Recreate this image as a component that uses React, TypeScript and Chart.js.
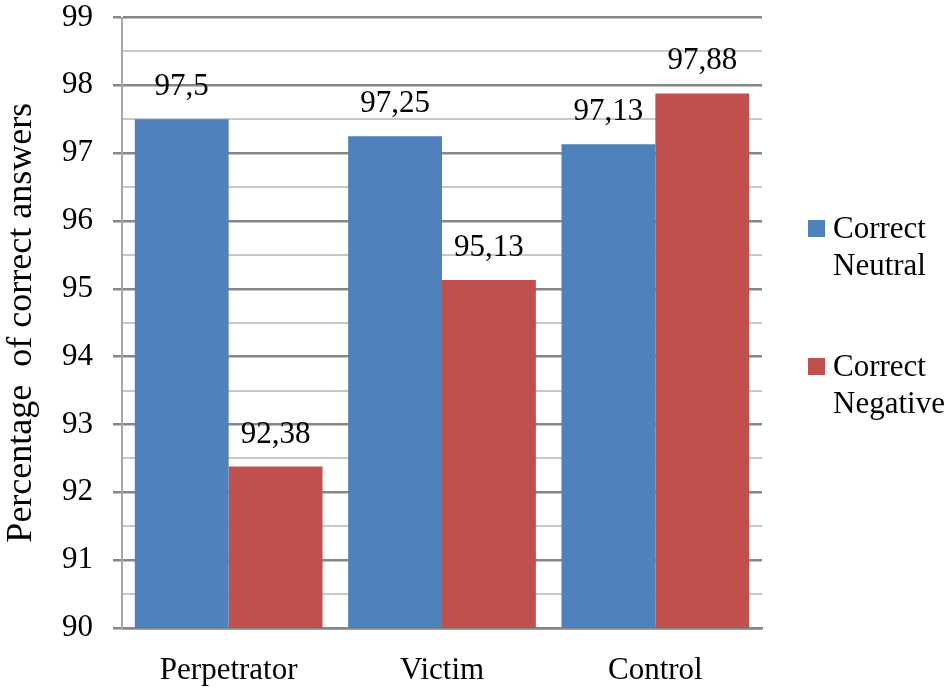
import { useEffect, useRef } from "react";
import { Chart, ChartConfiguration, Plugin, registerables } from "chart.js";

Chart.register(...registerables);

const categories = ["Perpetrator", "Victim", "Control"];
const neutralValues = [97.5, 97.25, 97.13];
const negativeValues = [92.38, 95.13, 97.88];
const seriesNames = [["Correct", "Neutral"], ["Correct", "Negative"]];
const seriesColors = ["#4F81BD", "#C0504D"];
const yTitle = "Percentage  of correct answers";

const FONT = "'Liberation Serif', 'Times New Roman', serif";

// value labels above each bar, with decimal comma
const valueLabels: Plugin<"bar"> = {
  id: "valueLabels",
  afterDatasetsDraw(chart) {
    const ctx = chart.ctx;
    ctx.save();
    ctx.font = `31px ${FONT}`;
    ctx.fillStyle = "#000";
    ctx.textAlign = "center";
    ctx.textBaseline = "alphabetic";
    chart.data.datasets.forEach((ds, i) => {
      const meta = chart.getDatasetMeta(i);
      meta.data.forEach((bar, j) => {
        const v = ds.data[j] as number;
        ctx.fillText(String(v).replace(".", ","), bar.x, bar.y - 24);
      });
    });
    ctx.restore();
  },
};

// legend on the right with two-line labels
const sideLegend: Plugin<"bar"> = {
  id: "sideLegend",
  afterDraw(chart) {
    const ctx = chart.ctx;
    const x0 = chart.chartArea.right + 46;
    const tops = [220, 358];
    ctx.save();
    ctx.font = `31px ${FONT}`;
    ctx.textBaseline = "alphabetic";
    ctx.textAlign = "left";
    chart.data.datasets.forEach((ds, i) => {
      const top = tops[i];
      ctx.fillStyle = ds.backgroundColor as string;
      ctx.fillRect(x0, top, 17, 17);
      ctx.fillStyle = "#000";
      seriesNames[i].forEach((line, k) => {
        ctx.fillText(line, x0 + 25, top + 18 + k * 37);
      });
    });
    ctx.restore();
  },
};

export default function App() {
  const canvasRef = useRef<HTMLCanvasElement>(null);
  const chartRef = useRef<Chart<"bar"> | null>(null);

  useEffect(() => {
    if (!canvasRef.current) return;
    if (chartRef.current) chartRef.current.destroy();

    const config: ChartConfiguration<"bar"> = {
      type: "bar",
      data: {
        labels: categories,
        datasets: [
          {
            label: seriesNames[0].join(" "),
            data: neutralValues,
            backgroundColor: seriesColors[0],
            borderWidth: 0,
          },
          {
            label: seriesNames[1].join(" "),
            data: negativeValues,
            backgroundColor: seriesColors[1],
            borderWidth: 0,
          },
        ],
      },
      options: {
        responsive: true,
        maintainAspectRatio: false,
        animation: false,
        layout: { padding: { top: 17.5, right: 189, left: 0, bottom: 0 } },
        datasets: { bar: { categoryPercentage: 0.88, barPercentage: 1 } },
        plugins: {
          legend: { display: false },
          tooltip: { enabled: false },
        },
        scales: {
          x: {
            grid: { display: false },
            border: { color: "#868686", width: 2.5 },
            ticks: {
              color: "#000",
              font: { family: FONT, size: 31, lineHeight: 1 },
              padding: 19,
            },
            afterFit: (s) => {
              s.height = 60;
            },
          },
          y: {
            min: 90,
            max: 99,
            border: { color: "#a6a6a6", width: 2 },
            grid: {
              color: (c) => (c.tick && c.tick.value % 1 === 0 ? "#868686" : "#c8c8c8"),
              lineWidth: (c) => (c.tick && c.tick.value % 1 === 0 ? 2.5 : 2),
              tickColor: (c) => (c.tick && c.tick.value % 1 === 0 ? "#868686" : "rgba(0,0,0,0)"),
              tickLength: 9,
            },
            ticks: {
              stepSize: 0.5,
              autoSkip: false,
              color: "#000",
              padding: 20,
              font: { family: FONT, size: 31, lineHeight: 1 },
              callback: (v) => (Number(v) % 1 === 0 ? String(v) : ""),
            },
            title: {
              display: true,
              text: yTitle,
              color: "#000",
              font: { family: FONT, size: 36, lineHeight: 1.2 },
              padding: { top: 0, bottom: 0 },
            },
            afterFit: (s) => {
              s.width = 122;
              s.paddingTop = 0;
              s.paddingBottom = 0;
            },
          },
        },
      },
      plugins: [valueLabels, sideLegend],
    };

    chartRef.current = new Chart(canvasRef.current, config);
    return () => {
      if (chartRef.current) chartRef.current.destroy();
      chartRef.current = null;
    };
  }, []);

  return (
    <div
      style={{
        position: "absolute",
        left: 0,
        top: 0,
        width: 951,
        height: 688,
        background: "#fff",
      }}
    >
      <canvas ref={canvasRef} />
    </div>
  );
}
